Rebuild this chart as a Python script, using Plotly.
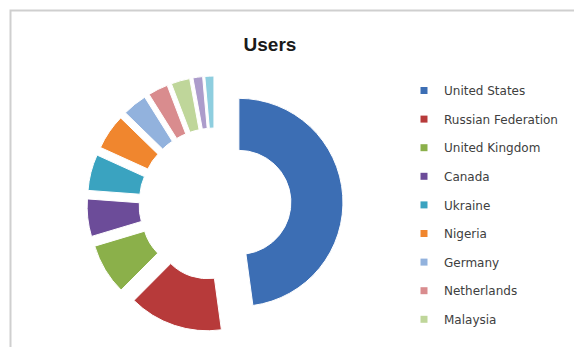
import plotly.graph_objects as go

countries = ["United States", "Russian Federation", "United Kingdom", "Canada",
             "Ukraine", "Nigeria", "Germany", "Netherlands", "Malaysia",
             "India", "Australia"]
users = [478, 146, 79, 58, 56, 55, 38, 31, 29, 15, 14]
colors = ["#3C6EB4", "#B73A3A", "#8BB04A", "#6C4C99", "#3AA3C0", "#F0862E",
          "#92B2DD", "#D98C8E", "#BFD69A", "#AC9CCB", "#8ECEDF"]
# legend rows visible in the (cropped) reference picture
legend_countries = countries[:9]

W, H = 574, 347

fig = go.Figure()
fig.add_trace(go.Pie(
    labels=countries, values=users, sort=False, direction="clockwise", rotation=0,
    hole=0.5, pull=[0.23] * len(users),
    marker=dict(colors=colors, line=dict(color="white", width=1)),
    textinfo="none", showlegend=False,
    domain=dict(x=[87 / W, 343 / W], y=[1 - 332 / H, 1 - 76 / H]),
))

# legend entries (same colours as the slices)
for i, c in enumerate(legend_countries):
    fig.add_trace(go.Scatter(
        x=[None], y=[None], mode="markers", name=c, legendgroup=f"g{i}",
        marker=dict(symbol="square", size=7, color=colors[i]),
    ))

fig.update_layout(
    width=W, height=H,
    margin=dict(l=0, r=0, t=0, b=0, autoexpand=False),
    paper_bgcolor="white", plot_bgcolor="white",
    xaxis=dict(visible=False), yaxis=dict(visible=False),
    title=dict(text="Users", x=270 / W, xanchor="center", y=1 - 44 / H, yanchor="middle",
               font=dict(family="Liberation Sans", size=19, color="#1a1a1a", weight="bold")),
    legend=dict(x=404 / W, xanchor="left", y=1 - 76 / H, yanchor="top",
                font=dict(family="DejaVu Sans", size=12, color="#404040"),
                tracegroupgap=9.6, itemsizing="trace", maxheight=2000,
                bgcolor="rgba(0,0,0,0)"),
    shapes=[dict(type="rect", xref="paper", yref="paper",
                 x0=10.5 / W, x1=1.5, y0=-0.5, y1=1 - 10.5 / H,
                 line=dict(color="#cfcfcf", width=2), layer="above")],
)

fig.write_html("out.html")
